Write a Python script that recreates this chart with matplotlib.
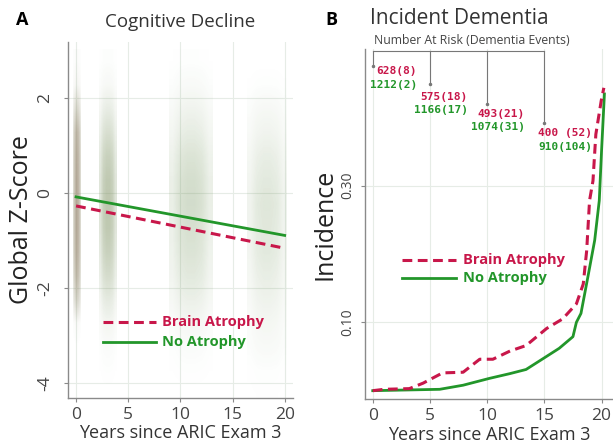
import numpy as np
import matplotlib
matplotlib.use("Agg")
from matplotlib import pyplot as plt

RED = "#c8174a"
GREEN = "#22962a"
GRAY = "#8a8a8a"

# ---- panel A: scatter clouds summarised as density per z-bin
z_edges = [-4.5, -4.0, -3.5, -3.0, -2.5, -2.0, -1.5, -1.0, -0.5, 0.0, 0.5, 1.0, 1.5, 2.0, 2.5, 3.0]
cloud_x_lo = [-0.25, 2.2, 8.9, 16.4]
cloud_x_hi = [0.5, 3.9, 13.1, 20.2]
cloud_peak = [1.0, 0.9, 0.6, 0.5]
cloud_density = [
    [0, 0, 0, 0.05, 0.5, 0.8, 0.95, 1, 1, 1, 0.95, 0.85, 0.45, 0.1, 0.03],
    [0, 0.02, 0.05, 0.15, 0.35, 0.6, 0.8, 0.95, 1, 0.95, 0.8, 0.55, 0.3, 0.1, 0.03],
    [0, 0.03, 0.08, 0.2, 0.4, 0.6, 0.75, 0.85, 0.95, 0.9, 0.75, 0.5, 0.3, 0.12, 0.03],
    [0.02, 0.05, 0.15, 0.25, 0.4, 0.55, 0.7, 0.75, 0.8, 0.7, 0.55, 0.35, 0.2, 0.05, 0.0],
]

# fitted trajectories
fit_years = [0, 20]
fit_atrophy = [-0.28, -1.17]
fit_none = [-0.09, -0.90]

# ---- panel B: cumulative incidence
atrophy_years = [0, 1.0, 3.2, 4.4, 6.1, 7.9, 9.35, 10.5, 12.0, 13.4, 15.2, 16.6, 17.8,
                 18.4, 18.7, 18.95, 19.25, 19.5, 19.97, 20.2]
atrophy_inc = [0, 0.002, 0.003, 0.011, 0.026, 0.027, 0.046, 0.046, 0.058, 0.066, 0.091,
               0.105, 0.127, 0.156, 0.205, 0.278, 0.307, 0.375, 0.424, 0.443]
none_years = [0, 5.85, 7.9, 10.2, 12.0, 13.4, 14.9, 16.3, 17.5, 17.8, 18.2, 18.8, 19.4,
              19.8, 20.0, 20.25]
none_inc = [0, 0.002, 0.008, 0.018, 0.025, 0.031, 0.047, 0.062, 0.079, 0.100, 0.113,
            0.166, 0.22, 0.278, 0.351, 0.434]

risk_years = [0, 5, 10, 15]
risk_atrophy = ["628(8)", "575(18)", "493(21)", "400 (52)"]
risk_none = ["1212(2)", "1166(17)", "1074(31)", "910(104)"]

plt.rcParams["font.family"] = ["Open Sans", "DejaVu Sans"]

fig = plt.figure(figsize=(6.13, 4.44), dpi=100)
axA = fig.add_axes([0.111, 0.1036, 0.367, 0.802])
axB = fig.add_axes([0.595, 0.101, 0.405, 0.789])


def style_axes(ax):
    for s in ["top", "right"]:
        ax.spines[s].set_visible(False)
    for s in ["left", "bottom"]:
        ax.spines[s].set_color(GRAY)
        ax.spines[s].set_linewidth(1.0)
    ax.tick_params(colors="#444444", length=3, width=0.8, color=GRAY)
    ax.grid(True, color="#e6ece6", linewidth=0.8)
    ax.set_axisbelow(True)


def manual_legend(ax, x, y1, y2, length, fs):
    ax.plot([x, x + length], [y1, y1], transform=ax.transAxes, color=RED, lw=2.2,
            dashes=(3.2, 1.8), clip_on=False)
    ax.plot([x, x + length], [y2, y2], transform=ax.transAxes, color=GREEN, lw=2.0,
            clip_on=False)
    ax.text(x + length + 0.025, y1, "Brain Atrophy", transform=ax.transAxes, color=RED,
            fontsize=fs, fontweight="bold", va="center")
    ax.text(x + length + 0.025, y2, "No Atrophy", transform=ax.transAxes, color=GREEN,
            fontsize=fs, fontweight="bold", va="center")


# ---------------- panel A
style_axes(axA)
col_weight = [0.45, 0.85, 1.0, 1.0, 0.85, 0.45]
red_share = [0.3, 0.18, 0.15, 0.15]
for lo, hi, peak, dens, rs in zip(cloud_x_lo, cloud_x_hi, cloud_peak, cloud_density, red_share):
    d = np.outer(np.array(dens)[::-1], col_weight) * peak
    g = np.zeros(d.shape + (4,))
    g[..., :3] = matplotlib.colors.to_rgb("#5fb560")
    g[..., 3] = 0.48 * d
    r = np.zeros(d.shape + (4,))
    r[..., :3] = matplotlib.colors.to_rgb("#d04a74")
    r[..., 3] = rs * d
    ext = [lo, hi, z_edges[0], z_edges[-1]]
    axA.imshow(g, extent=ext, aspect="auto", interpolation="bilinear", zorder=1)
    axA.imshow(r, extent=ext, aspect="auto", interpolation="bilinear", zorder=1)

axA.plot(fit_years, fit_none, color=GREEN, lw=2.0, zorder=3)
axA.plot(fit_years, fit_atrophy, color=RED, lw=2.2, dashes=(3.2, 1.8), zorder=3)

axA.set_xlim(-0.77, 20.8)
axA.set_ylim(-4.32, 3.17)
axA.set_xticks([0, 5, 10, 15, 20])
axA.set_yticks([2, 0, -2, -4])
axA.set_yticklabels(["2", "0", "-2", "-4"], rotation=90, va="center")
axA.tick_params(labelsize=12.5)
axA.tick_params(axis="y", pad=8)
axA.set_xlabel("Years since ARIC Exam 3", fontsize=13, color="#333333", labelpad=1)
axA.set_ylabel("Global Z-Score", fontsize=18, color="#222222", labelpad=2)
axA.set_title("Cognitive Decline", fontsize=13.5, color="#333333", pad=11)
manual_legend(axA, 0.156, 0.213, 0.157, 0.235, 10.5)

# ---------------- panel B
style_axes(axB)
axB.plot(none_years, none_inc, color=GREEN, lw=2.0, zorder=3)
axB.plot(atrophy_years, atrophy_inc, color=RED, lw=2.2, dashes=(3.2, 1.8), zorder=3)
axB.set_xlim(-0.7, 21.0)
axB.set_ylim(-0.0124, 0.5)
axB.set_xticks([0, 5, 10, 15, 20])
axB.set_yticks([0.10, 0.30])
axB.set_yticklabels(["0.10", "0.30"], rotation=90, va="center")
axB.tick_params(axis="x", labelsize=12.5)
axB.tick_params(axis="y", labelsize=10)
axB.set_xlabel("Years since ARIC Exam 3", fontsize=13, color="#333333", labelpad=1)
axB.set_ylabel("Incidence", fontsize=18, color="#222222", labelpad=2)
manual_legend(axB, 0.149, 0.397, 0.346, 0.22, 10.5)

# number at risk annotation
drop_ends = [0.475, 0.449, 0.42, 0.392]
axB.plot([risk_years[0], risk_years[-1]], [0.497, 0.497], color="#777777", lw=0.8,
         clip_on=False)
for yr, yend in zip(risk_years, drop_ends):
    axB.plot([yr, yr], [0.497, yend], color="#777777", lw=0.8, clip_on=False)
    axB.plot([yr], [yend], marker="o", ms=1.5, color="#777777")
label_right = [3.85, 8.3, 13.3, 19.2]
label_y_red = [0.468, 0.43, 0.405, 0.377]
label_y_green = [0.447, 0.411, 0.386, 0.357]
for xr, yr_, yg, ta, tn in zip(label_right, label_y_red, label_y_green, risk_atrophy, risk_none):
    axB.text(xr, yr_, ta, color=RED, fontsize=8, family="DejaVu Sans Mono",
             fontweight="bold", ha="right", va="center")
    axB.text(xr, yg, tn, color=GREEN, fontsize=8, family="DejaVu Sans Mono",
             fontweight="bold", ha="right", va="center")
axB.text(0.1, 0.512, "Number At Risk (Dementia Events)", fontsize=8.8, color="#444444",
         ha="left", va="center", clip_on=False)

fig.text(0.036, 0.955, "A", fontsize=13, fontweight="bold", ha="center", va="center")
fig.text(0.54, 0.955, "B", fontsize=13, fontweight="bold", ha="center", va="center")
fig.text(0.603, 0.958, "Incident Dementia", fontsize=15, color="#333333", ha="left",
         va="center")

fig.savefig("out.png", dpi=100)
